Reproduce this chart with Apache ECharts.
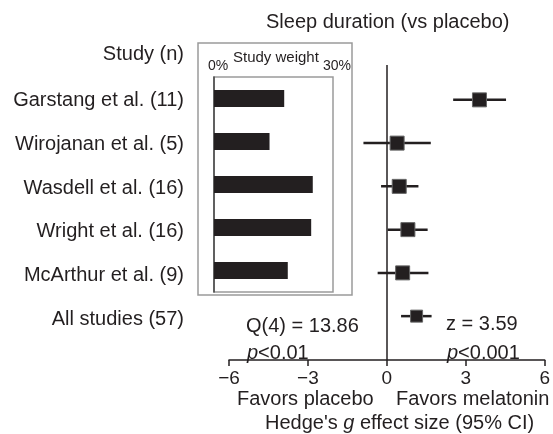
<!DOCTYPE html>
<html>
<head>
<meta charset="utf-8">
<script src="https://cdn.jsdelivr.net/npm/echarts@6/dist/echarts.min.js"></script>
<style>
  html, body { margin: 0; padding: 0; background: #fff; }
  #chart { width: 553px; height: 434px; }
</style>
</head>
<body>
<div id="chart"></div>
<script>
// Melatonin vs placebo: sleep duration meta-analysis (Hedge's g, 95% CI)
const studies = ['Garstang et al. (11)', 'Wirojanan et al. (5)', 'Wasdell et al. (16)', 'Wright et al. (16)', 'McArthur et al. (9)'];
const summaryLabel = 'All studies (57)';
const effect = [3.52, 0.39, 0.47, 0.80, 0.60];
const ciLow = [2.52, -0.89, -0.22, 0.03, -0.35];
const ciHigh = [4.53, 1.67, 1.20, 1.55, 1.58];
const pooled = [1.13, 0.54, 1.70]; // estimate, low, high
const weights = [17.7, 14.0, 24.9, 24.5, 18.6]; // study weight, %
const effectTicks = [-6, -3, 0, 3, 6];
const weightTicks = [0, 30];

const FONT = "'Liberation Sans', Arial, Helvetica, sans-serif";
const INK = '#231f20';

const rowLabels = studies.concat([summaryLabel]);
const forestData = effect.map((v, i) => [v, ciLow[i], ciHigh[i], i, 14]);
forestData.push([pooled[0], pooled[1], pooled[2], studies.length, 12]);

function renderCI(params, api) {
  const row = api.value(3);
  const p0 = api.coord([api.value(1), row]);
  const p1 = api.coord([api.value(2), row]);
  const c = api.coord([api.value(0), row]);
  const s = api.value(4);
  return {
    type: 'group',
    children: [
      { type: 'line', shape: { x1: p0[0], y1: p0[1], x2: p1[0], y2: p1[1] },
        style: { stroke: INK, lineWidth: 2.5 } },
      { type: 'rect', shape: { x: c[0] - s / 2, y: c[1] - s / 2, width: s, height: s },
        style: { fill: INK, stroke: '#666', lineWidth: 1 } }
    ]
  };
}

const italicP = {
  i: { font: 'italic 20px ' + FONT, fill: INK },
  n: { font: '20px ' + FONT, fill: INK }
};

const chart = echarts.init(document.getElementById('chart'), null, { renderer: 'canvas' });
chart.setOption({
  animation: false,
  backgroundColor: '#fff',
  textStyle: { fontFamily: FONT, color: INK },
  grid: [
    { left: 229, right: 7, top: 65, bottom: 74 },                                      // forest
    { left: 214, width: 119, top: 77, height: 215, show: true, borderColor: '#9a9a9a', borderWidth: 1.5 }, // weights
    { left: 184, width: 1, top: 79, height: 262 }                                      // row labels
  ],
  xAxis: [
    {
      gridIndex: 0, type: 'value', min: effectTicks[0], max: effectTicks[effectTicks.length - 1], interval: 3,
      axisLine: { show: true, onZero: false, lineStyle: { color: INK, width: 1.5 } },
      axisTick: { show: true, length: 6, lineStyle: { color: INK, width: 1.5 } },
      axisLabel: { fontSize: 19, color: INK, fontFamily: FONT, margin: 9,
        formatter: v => (v < 0 ? '\u2212' + Math.abs(v) : String(v)) },
      splitLine: { show: false }
    },
    {
      gridIndex: 1, type: 'value', position: 'top', min: weightTicks[0], max: weightTicks[1], interval: 30,
      axisLine: { show: false }, axisTick: { show: false }, splitLine: { show: false },
      axisLabel: { fontSize: 14, color: INK, fontFamily: FONT, margin: 4, formatter: '{value}%',
        padding: [0, 0, 0, 8] }
    },
    { gridIndex: 2, type: 'value', show: false }
  ],
  yAxis: [
    { gridIndex: 0, type: 'value', inverse: true, min: -0.806, max: 6.014, show: false },
    {
      gridIndex: 1, type: 'category', inverse: true, data: studies,
      axisLine: { show: true, lineStyle: { color: '#444', width: 1.5 } },
      axisTick: { show: false }, axisLabel: { show: false }
    },
    {
      gridIndex: 2, type: 'category', inverse: true, data: rowLabels,
      axisLine: { show: false }, axisTick: { show: false },
      axisLabel: { fontSize: 20, color: INK, fontFamily: FONT, margin: 0 }
    }
  ],
  series: [
    {
      type: 'bar', xAxisIndex: 1, yAxisIndex: 1, data: weights,
      barWidth: 17, itemStyle: { color: INK }, silent: true
    },
    {
      type: 'custom', xAxisIndex: 0, yAxisIndex: 0, data: forestData,
      renderItem: renderCI, clip: false, silent: true,
      markLine: {
        symbol: 'none', silent: true, label: { show: false },
        lineStyle: { color: INK, width: 1.5, type: 'solid' },
        data: [{ xAxis: 0 }]
      }
    }
  ],
  graphic: [
    { type: 'text', left: 266, top: 12,
      style: { text: 'Sleep duration (vs placebo)', font: '20px ' + FONT, fill: INK } },
    { type: 'text', right: 369, top: 44,
      style: { text: 'Study (n)', font: '20px ' + FONT, fill: INK, align: 'right' } },
    { type: 'rect', shape: { x: 198, y: 43, width: 154, height: 252 },
      style: { fill: 'none', stroke: '#9a9a9a', lineWidth: 1.5 } },
    { type: 'text', left: 233, top: 50,
      style: { text: 'Study weight', font: '15px ' + FONT, fill: INK } },
    { type: 'text', left: 246, top: 316,
      style: { text: 'Q(4) = 13.86', font: '20px ' + FONT, fill: INK } },
    { type: 'text', left: 446, top: 314,
      style: { text: 'z = 3.59', font: '20px ' + FONT, fill: INK } },
    { type: 'text', left: 247, top: 343,
      style: { text: '{i|p}{n|<0.01}', fill: INK, rich: italicP } },
    { type: 'text', left: 447, top: 343,
      style: { text: '{i|p}{n|<0.001}', fill: INK, rich: italicP } },
    { type: 'text', left: 237, top: 389,
      style: { text: 'Favors placebo', font: '20px ' + FONT, fill: INK } },
    { type: 'text', left: 396, top: 389,
      style: { text: 'Favors melatonin', font: '20px ' + FONT, fill: INK } },
    { type: 'text', left: 265, top: 413,
      style: { text: "{n|Hedge's }{i|g}{n| effect size (95% CI)}", fill: INK, rich: italicP } }
  ]
});
</script>
</body>
</html>
